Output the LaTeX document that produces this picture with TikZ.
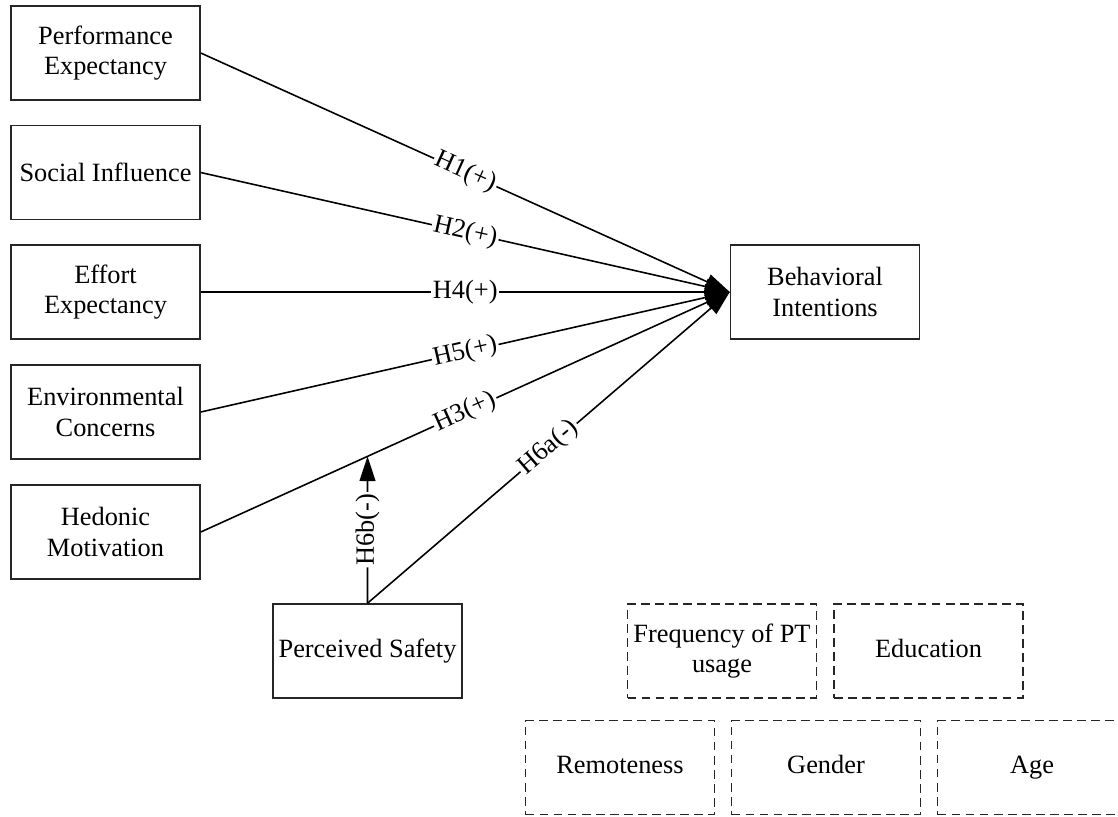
\documentclass[tikz,border=0pt]{standalone}
\usepackage{fontspec}
\setmainfont{Liberation Serif}
\usetikzlibrary{arrows.meta}

\begin{document}
\begin{tikzpicture}[x=0.02cm,y=-0.02cm,line width=0.9pt,
  box/.style={draw=black!85,minimum width=3.78cm,minimum height=1.88cm,align=center,inner sep=1pt,font=\fontsize{15}{17.4}\selectfont},
  ctrl/.style={box,dash pattern=on 5pt off 3pt},
  hyp/.style={-{Triangle[length=14pt,width=9pt]}},
  lbl/.style={fill=white,inner sep=1pt,sloped,font=\fontsize{15}{17.4}\selectfont}]
\useasboundingbox (0,0) rectangle (1118,816);
% constructs
\node[box] (pe) at (105.5,53) {Performance\\Expectancy};
\node[box] (si) at (105.5,172.5) {Social Influence};
\node[box] (ee) at (105.5,292) {Effort\\Expectancy};
\node[box] (ec) at (105.5,412) {Environmental\\Concerns};
\node[box] (hm) at (105.5,532) {Hedonic\\Motivation};
\node[box] (bi) at (825,292) {Behavioral\\Intentions};
\node[box] (ps) at (367.5,651) {Perceived Safety};
% controls
\node[ctrl] (freq) at (722,651) {Frequency of PT\\usage};
\node[ctrl] (edu) at (928.5,651) {Education\strut};
\node[ctrl] (rem) at (620,767.5) {Remoteness\strut};
\node[ctrl] (gen) at (826,767.5) {Gender\strut};
\node[ctrl] (age) at (1032,767.5) {Age\strut};
% hypotheses
\draw[hyp] (pe.east) -- node[lbl]{H1(+)} (bi.west);
\draw[hyp] (si.east) -- node[lbl]{H2(+)} (bi.west);
\draw[hyp] (ee.east) -- node[lbl]{H4(+)} (bi.west);
\draw[hyp] (ec.east) -- node[lbl]{H5(+)} (bi.west);
\draw[hyp] (hm.east) -- node[lbl]{H3(+)} (bi.west);
\draw[hyp] (ps.north) -- node[lbl]{H6a(-)} (bi.west);
\coordinate (mod) at (intersection of hm.east--bi.west and ps.north--ps.center);
\draw[hyp] (ps.north) -- node[lbl]{H6b(-)} (mod);
\end{tikzpicture}
\end{document}
